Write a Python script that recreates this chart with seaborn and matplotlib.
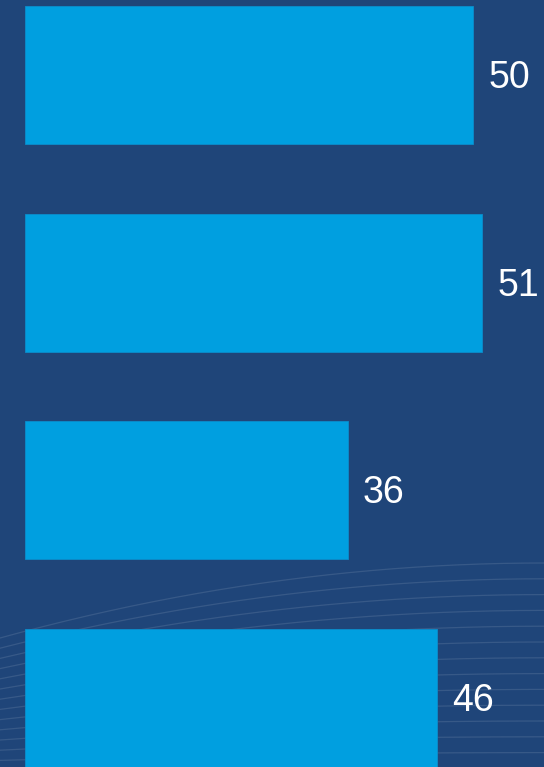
import matplotlib
matplotlib.use("Agg")
import matplotlib.pyplot as plt
import numpy as np
import pandas as pd
import seaborn as sns

categories = ["Q1", "Q2", "Q3", "Q4"]
values = [50, 51, 36, 46]

BG = "#1f4579"
BAR = "#009fe0"

df = pd.DataFrame({"category": categories, "value": values})

sns.set_style("white")
fig = plt.figure(figsize=(5.44, 7.67), dpi=100)
fig.patch.set_facecolor(BG)

# faint decorative arcs in the lower part of the background (pixel coords)
bg = fig.add_axes([0, 0, 1, 1], zorder=0)
bg.set_xlim(0, 544)
bg.set_ylim(767, 0)
bg.axis("off")
t = np.linspace(0, 1, 200)
for k in range(13):
    yl = 638 + k * 10.2
    yr = 563 + k * 15.8
    ys = yl + (yr - yl) * (1 - (1 - t) ** 2)
    bg.plot(t * 544, ys, color="white", alpha=0.11, lw=0.9)

ax = fig.add_axes([0, 0, 1, 1], zorder=1)
ax.set_facecolor("none")
sns.barplot(data=df, y="category", x="value", orient="h", color=BAR,
            width=0.665, edgecolor="#0b8dcc", linewidth=0.6, saturation=1, ax=ax)

ax.set_xlim(-2.79, 57.92)
ax.set_ylim(3.333, -0.361)
for i, v in enumerate(values):
    ax.text(v + 1.7, i + 0.015, str(v), color="white", fontsize=27,
            va="center", ha="left", family="Liberation Sans")

ax.axis("off")
fig.savefig("out.png", dpi=100, facecolor=BG)
